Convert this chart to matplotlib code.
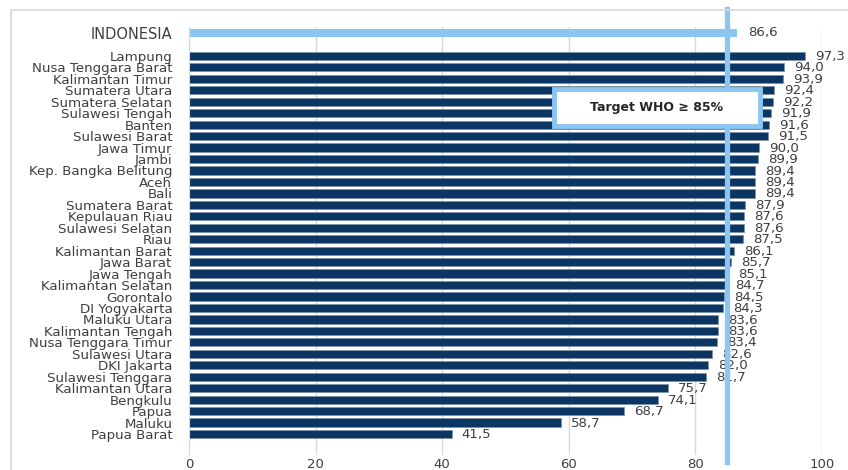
import matplotlib
matplotlib.use("Agg")
import matplotlib.pyplot as plt
from matplotlib.patches import Rectangle

national_label = "INDONESIA"
national_value = 86.6

provinces = ["Lampung", "Nusa Tenggara Barat", "Kalimantan Timur", "Sumatera Utara",
             "Sumatera Selatan", "Sulawesi Tengah", "Banten", "Sulawesi Barat",
             "Jawa Timur", "Jambi", "Kep. Bangka Belitung", "Aceh", "Bali",
             "Sumatera Barat", "Kepulauan Riau", "Sulawesi Selatan", "Riau",
             "Kalimantan Barat", "Jawa Barat", "Jawa Tengah", "Kalimantan Selatan",
             "Gorontalo", "DI Yogyakarta", "Maluku Utara", "Kalimantan Tengah",
             "Nusa Tenggara Timur", "Sulawesi Utara", "DKI Jakarta",
             "Sulawesi Tenggara", "Kalimantan Utara", "Bengkulu", "Papua",
             "Maluku", "Papua Barat"]
values = [97.3, 94.0, 93.9, 92.4, 92.2, 91.9, 91.6, 91.5, 90.0, 89.9, 89.4, 89.4,
          89.4, 87.9, 87.6, 87.6, 87.5, 86.1, 85.7, 85.1, 84.7, 84.5, 84.3, 83.6,
          83.6, 83.4, 82.6, 82.0, 81.7, 75.7, 74.1, 68.7, 58.7, 41.5]
x_ticks = [0, 20, 40, 60, 80, 100]
target = 85
target_text = "Target WHO \u2265 85%"

navy = "#0B3562"
light = "#8CC5F2"
txt = "#3F3F3F"

fig = plt.figure(figsize=(8.48, 4.70), dpi=100)
fig.patch.set_facecolor("white")
ax = fig.add_axes([189/848, 1-455/470, (822-189)/848, (455-27)/470])

ypos = list(range(len(provinces)))
ax.barh(ypos, values, height=0.72, color=navy, edgecolor="#7A8DA3", linewidth=0.4, zorder=2)
ax.barh([-2], [national_value], height=0.72, color=light, zorder=2)

for y, v in zip(ypos, values):
    ax.text(v + 1.6, y + 0.05, f"{v:.1f}".replace(".", ","), va="center", ha="left",
            fontsize=9.6, color=txt, zorder=3)
ax.text(national_value + 1.7, -2, f"{national_value:.1f}".replace(".", ","), va="center",
        ha="left", fontsize=9.6, color=txt, zorder=3)

ax.set_yticks([-2] + ypos)
ax.set_yticklabels([national_label] + provinces, fontsize=9.6, color=txt)
for lab in ax.get_yticklabels()[:1]:
    lab.set_fontsize(10.5)
ax.tick_params(axis="y", length=0, pad=12)
ax.set_xticks(x_ticks)
ax.set_xticklabels([str(t) for t in x_ticks], fontsize=9.5, color=txt)
ax.tick_params(axis="x", length=0, pad=2)
ax.set_xlim(0, 100)
ax.set_ylim(34.83, -2.52)
ax.grid(axis="x", color="#D9D9D9", linewidth=1, zorder=0)
ax.set_axisbelow(True)
for s in ["top", "right", "bottom"]:
    ax.spines[s].set_visible(False)
ax.spines["left"].set_color("#D9D9D9")

# target line
ax.plot([target, target], [35.45, -4.05], color=light, linewidth=3.8, clip_on=False, zorder=4)

# target box
ax.add_patch(Rectangle((57.6, 2.85), 32.6, 3.3, facecolor="white", edgecolor=light,
                       linewidth=3.5, zorder=6))
ax.text(73.9, 4.5, target_text, ha="center", va="center", fontsize=9, fontweight="bold",
        color="#262626", zorder=7)

# outer border
fig.patches.append(Rectangle((11/848, -0.02), 1.0, 1 - 10/470 + 0.02, transform=fig.transFigure,
                             facecolor="none", edgecolor="#D9D9D9", linewidth=1.2))

fig.savefig("out.png", dpi=100)
